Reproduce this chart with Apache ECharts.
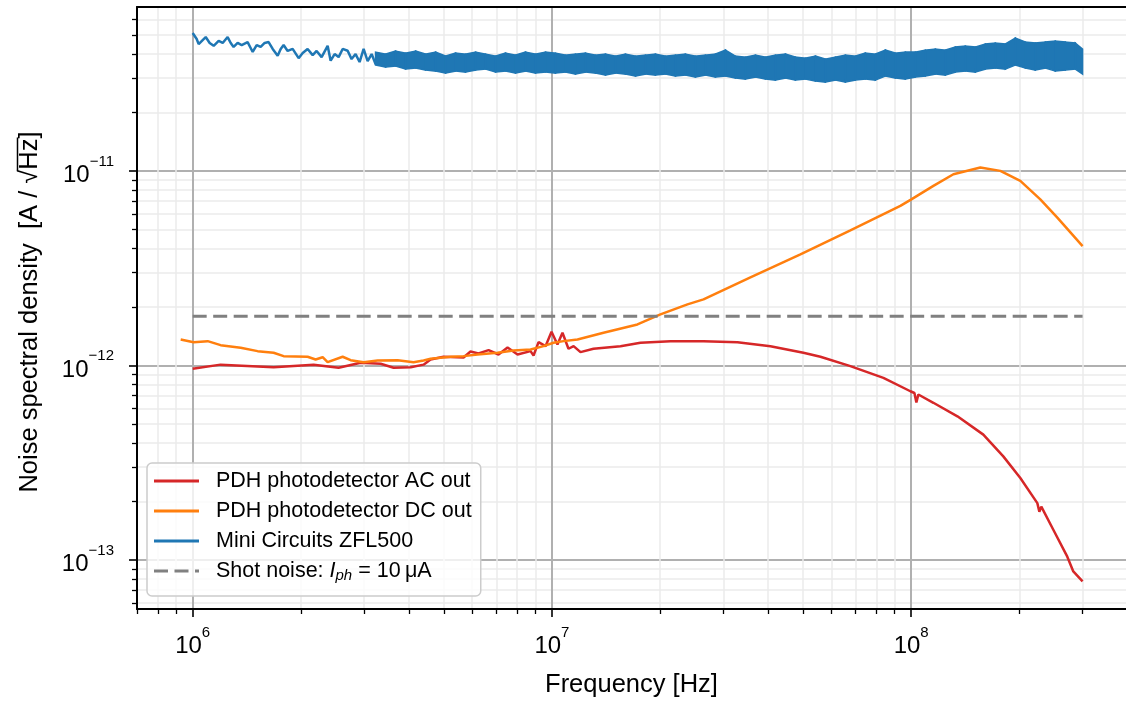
<!DOCTYPE html>
<html><head><meta charset="utf-8">
<script src="https://cdn.jsdelivr.net/npm/echarts@6/dist/echarts.min.js"></script>
<style>html,body{margin:0;padding:0;background:#fff}#c{width:1126px;height:701px}</style>
</head><body><div id="c"></div>
<script>
// Frequencies in MHz, noise densities in pA/sqrt(Hz)
const redFreqMHz = [1.0,1.196,1.680,2.171,2.548,2.934,3.336,3.625,4.044,4.392,4.594,4.993,5.675,5.935,6.249,6.663,7.102,7.524,8.021,8.718,8.889,9.178,9.598,9.975,10.36,10.70,11.12,11.49,12.01,13.05,15.52,17.64,21.38,26.42,32.84,40.57,50.12,55.90,67.73,83.70,99.5,102.1,103.4,104.7,115.3,134.5,158.8,180.5,201.3,224.5,227.4,230.3,248.7,272.0,282.7,300];
const redDensity = [0.962,1.01,0.980,1.01,0.973,1.033,1.020,0.973,0.980,1.01,1.074,1.109,1.099,1.180,1.153,1.199,1.139,1.238,1.139,1.185,1.126,1.318,1.257,1.491,1.283,1.474,1.219,1.257,1.171,1.219,1.257,1.309,1.334,1.334,1.318,1.257,1.162,1.109,0.992,0.864,0.737,0.722,0.645,0.709,0.643,0.548,0.441,0.341,0.264,0.196,0.177,0.188,0.143,0.104,0.0873,0.0776];

const orangeFreqMHz = [0.926,1.006,1.101,1.196,1.360,1.516,1.680,1.791,2.089,2.199,2.300,2.375,2.615,2.752,2.991,3.272,3.719,4.120,4.392,4.594,5.224,5.675,6.209,7.057,7.819,8.718,9.476,10.10,10.77,11.78,13.92,17.30,20.05,23.84,26.42,35.69,49.17,67.73,93.3,100.1,115.3,131.1,155.8,177.1,201.3,228.8,255.2,300];
const orangeDensity = [1.361,1.318,1.334,1.272,1.233,1.185,1.162,1.117,1.109,1.074,1.103,1.040,1.109,1.065,1.040,1.061,1.065,1.040,1.061,1.083,1.109,1.117,1.139,1.162,1.195,1.209,1.257,1.309,1.334,1.361,1.474,1.626,1.830,2.061,2.187,2.838,3.729,4.955,6.61,7.15,8.38,9.62,10.42,10.01,8.89,7.15,5.76,4.11];

// Mini Circuits: thin noisy line at low frequency ...
const blueLineFreqMHz = [1.000,1.026,1.039,1.066,1.087,1.115,1.144,1.181,1.212,1.251,1.276,1.300,1.334,1.369,1.422,1.450,1.469,1.507,1.546,1.586,1.627,1.670,1.724,1.758,1.791,1.838,1.898,1.972,2.024,2.089,2.158,2.213,2.285,2.375,2.421,2.484,2.548,2.615,2.700,2.769,2.841,2.915,2.991,3.069,3.149,3.231,3.336];
const blueLineDensity = [51.2,47.7,44.9,47.1,48.8,45.5,44.0,46.6,45.5,48.8,45.5,43.4,45.5,44.4,46.0,42.9,40.9,44.4,43.4,45.5,46.0,42.4,39.1,42.4,44.4,41.4,42.4,38.0,40.4,42.4,39.4,41.4,38.5,44.0,36.9,39.9,38.5,42.4,41.5,37.6,39.9,36.3,42.4,36.7,39.9,35.4,39.9];
// ... and a dense noise band (upper / lower envelope) above ~3 MHz
const blueBandFreqMHz = [3.229,3.444,3.671,3.914,4.174,4.449,4.745,5.058,5.393,5.748,6.131,6.535,6.968,7.428,7.920,8.444,9.001,9.598,10.23,10.91,11.63,12.40,13.22,14.10,15.03,16.02,17.09,18.22,19.42,20.71,22.08,23.53,25.09,26.75,28.52,30.41,32.42,34.56,36.86,39.30,41.90,44.67,47.62,50.77,54.13,57.71,61.52,65.60,69.94,74.56,79.50,84.76,90.37,96.35,102.7,109.5,116.8,124.5,132.7,141.5,150.9,160.9,171.5,182.9,195.0,207.9,221.6,236.3,251.9,268.6,286.4,300];
const blueBandHigh = [40.86,39.90,41.35,40.38,41.35,39.90,40.86,38.97,40.38,39.90,40.86,39.90,38.97,40.38,39.43,40.86,39.90,40.86,40.38,39.43,39.90,40.38,39.43,39.90,38.97,39.90,38.97,39.43,39.90,38.97,39.43,39.90,38.97,39.43,39.90,41.84,38.97,38.51,39.43,38.51,39.43,39.90,38.51,38.05,38.97,37.60,38.51,39.43,38.97,40.38,39.90,41.84,40.38,40.86,40.86,41.84,42.34,41.84,43.36,43.88,43.36,44.93,45.47,44.93,48.25,46.01,45.47,46.01,46.56,46.01,45.47,42.34];
const blueBandLow = [35.03,34.21,34.61,33.41,33.80,33.01,32.62,31.86,32.62,32.24,33.01,33.41,32.24,32.62,31.86,32.62,31.86,32.24,31.86,32.24,31.48,32.24,31.86,31.11,31.86,31.48,30.74,31.48,31.11,31.48,30.74,31.11,30.38,31.11,30.38,30.74,30.02,29.67,30.38,29.67,29.32,30.02,29.32,29.67,28.97,28.63,29.32,28.63,29.32,29.67,29.32,30.74,30.02,29.67,30.38,30.74,31.48,31.11,32.24,32.62,32.24,33.41,33.80,33.41,35.03,33.80,33.01,33.80,32.62,33.01,33.41,31.48];

const shotFreqMHz = [1, 300];
const shotDensity = [1.79, 1.79];

const xMajorExp = [6, 7, 8];
const yMajorExp = [-13, -12, -11];
const minorMult = [2, 3, 4, 5, 6, 7, 8, 9];

const NAME_RED = 'PDH photodetector AC out';
const NAME_ORANGE = 'PDH photodetector DC out';
const NAME_BLUE = 'Mini Circuits ZFL500';
const NAME_SHOT = 'Shot noise';

const RED = '#d62728', ORANGE = '#ff7f0e', BLUE = '#1f77b4', GRAY = '#808080';
const X_MIN = 5.845, X_MAX = 8.598, Y_MIN = -13.252, Y_MAX = -10.157;
const TICK_FONT = '"Liberation Sans", Arial, sans-serif';
const TEXT_FONT = '"Liberation Sans", Arial, sans-serif';

function minorTicks(decades, lo, hi) {
  const out = [];
  decades.forEach(d => minorMult.forEach(m => {
    const v = d + Math.log10(m);
    if (v > lo && v < hi) out.push(v);
  }));
  return out;
}
const xMinor = minorTicks([5, 6, 7, 8], X_MIN, X_MAX);
const yMinor = minorTicks([-14, -13, -12, -11], Y_MIN, Y_MAX);

const pts = (fMHz, vpA) => fMHz.map((f, i) => [Math.log10(f * 1e6), Math.log10(vpA[i] * 1e-12)]);
const bandData = blueBandFreqMHz.map((f, i) => [Math.log10(f * 1e6), Math.log10(blueBandLow[i] * 1e-12), Math.log10(blueBandHigh[i] * 1e-12)]);

const tickRich = {
  b: { fontSize: 24, fontFamily: TICK_FONT, color: '#000', lineHeight: 33.5, verticalAlign: 'bottom' },
  s: { fontSize: 15, fontFamily: TICK_FONT, color: '#000', lineHeight: 10, verticalAlign: 'top' }
};

// y-axis title with overline on Hz
const TITLE_SIZE = 25.5;
const TITLE_FONT = TITLE_SIZE + 'px ' + TEXT_FONT;
const mctx = document.createElement('canvas').getContext('2d');
mctx.font = TITLE_FONT;
const yPre = 'Noise spectral density  [A / \u221A';
const yRad = 'Hz';
const yFull = yPre + yRad + ']';
const wFull = mctx.measureText(yFull).width;
const wPre = mctx.measureText(yPre).width;
const wRad = mctx.measureText(yRad).width;

const chart = echarts.init(document.getElementById('c'), null, { renderer: 'canvas' });
const option = {
  animation: false,
  backgroundColor: '#fff',
  grid: { left: 137, top: 7, right: 0, bottom: 92, containLabel: false },
  xAxis: [
    { type: 'value', min: X_MIN, max: X_MAX, position: 'bottom',
      axisLine: { show: false },
      axisTick: { show: true, customValues: xMinor, length: 5, lineStyle: { color: '#000', width: 1.3 } },
      axisLabel: { show: false },
      splitLine: { show: true, lineStyle: { color: '#ebebeb', width: 1.5 } } },
    { type: 'value', min: X_MIN, max: X_MAX, position: 'bottom',
      axisLine: { show: true, onZero: false, lineStyle: { color: '#000', width: 2 } },
      axisTick: { show: true, customValues: xMajorExp, length: 8, lineStyle: { color: '#000', width: 1.6 } },
      axisLabel: { show: true, customValues: xMajorExp, margin: 16, rich: tickRich,
        formatter: v => '{b|10}{s|' + Math.round(v) + '}' },
      splitLine: { show: true, lineStyle: { color: '#b0b0b0', width: 2 } } },
    { type: 'value', min: X_MIN, max: X_MAX, position: 'top',
      axisLine: { show: true, onZero: false, lineStyle: { color: '#000', width: 2 } },
      axisTick: { show: false }, axisLabel: { show: false }, splitLine: { show: false } }
  ],
  yAxis: [
    { type: 'value', min: Y_MIN, max: Y_MAX, position: 'left',
      axisLine: { show: false },
      axisTick: { show: true, customValues: yMinor, length: 5, lineStyle: { color: '#000', width: 1.3 } },
      axisLabel: { show: false },
      splitLine: { show: true, lineStyle: { color: '#ebebeb', width: 1.5 } } },
    { type: 'value', min: Y_MIN, max: Y_MAX, position: 'left',
      axisLine: { show: true, onZero: false, lineStyle: { color: '#000', width: 2 } },
      axisTick: { show: true, customValues: yMajorExp, length: 8, lineStyle: { color: '#000', width: 1.6 } },
      axisLabel: { show: true, customValues: yMajorExp, margin: 23, rich: tickRich,
        formatter: v => '{b|10}{s|\u2212' + Math.abs(Math.round(v)) + '}' },
      splitLine: { show: true, lineStyle: { color: '#b0b0b0', width: 2 } } }
  ],
  legend: {
    orient: 'vertical', left: 147, top: 463, padding: [6, 9, 13, 7], itemGap: 6,
    itemWidth: 45, itemHeight: 3, selectedMode: false,
    backgroundColor: 'rgba(255,255,255,0.8)', borderColor: '#cccccc', borderWidth: 1.5, borderRadius: 5,
    textStyle: { fontSize: 21.5, fontFamily: TEXT_FONT, color: '#000', lineHeight: 24, padding: [0, 0, 0, 12],
      rich: {
        n: { fontSize: 21.5, fontFamily: TEXT_FONT, color: '#000', lineHeight: 24 },
        i: { fontSize: 21.5, fontFamily: TEXT_FONT, fontStyle: 'italic', color: '#000', lineHeight: 24 },
        sub: { fontSize: 15, fontFamily: TEXT_FONT, fontStyle: 'italic', color: '#000', lineHeight: 10, verticalAlign: 'bottom' }
      } },
    formatter: name => name === NAME_SHOT ? '{n|Shot noise: }{i|I}{sub|ph}{n| = 10\u2009\u03BCA}' : name,
    data: [
      { name: NAME_RED, icon: 'rect' },
      { name: NAME_ORANGE, icon: 'rect' },
      { name: NAME_BLUE, icon: 'rect' },
      { name: NAME_SHOT, icon: 'path://M0,0h14v3h-14zM20.5,0h14v3h-14zM41,0h4v3h-4z' }
    ]
  },
  graphic: [
    { type: 'group', x: 30, y: 312, rotation: Math.PI / 2, children: [
      { type: 'text', style: { text: yFull, font: TITLE_FONT, fill: '#000', align: 'center', verticalAlign: 'middle', x: 0, y: 0 } },
      { type: 'line', shape: { x1: -wFull / 2 + wPre - 1, y1: -12.5, x2: -wFull / 2 + wPre + wRad + 1, y2: -12.5 },
        style: { stroke: '#000', lineWidth: 1.5 } }
    ] },
    { type: 'text', x: 631.5, y: 685, style: { text: 'Frequency [Hz]', font: TITLE_FONT, fill: '#000', align: 'center', verticalAlign: 'middle' } }
  ],
  series: [
    { name: NAME_RED, type: 'line', data: pts(redFreqMHz, redDensity), showSymbol: false, symbol: 'none',
      itemStyle: { color: RED }, lineStyle: { color: RED, width: 2.5 }, z: 3 },
    { name: NAME_ORANGE, type: 'line', data: pts(orangeFreqMHz, orangeDensity), showSymbol: false, symbol: 'none',
      itemStyle: { color: ORANGE }, lineStyle: { color: ORANGE, width: 2.5 }, z: 4 },
    { name: NAME_BLUE, type: 'line', data: pts(blueLineFreqMHz, blueLineDensity), showSymbol: false, symbol: 'none',
      itemStyle: { color: BLUE }, lineStyle: { color: BLUE, width: 2.5 }, z: 5 },
    { name: NAME_BLUE, type: 'custom', coordinateSystem: 'cartesian2d', data: bandData,
      encode: { x: 0, y: [1, 2] }, itemStyle: { color: BLUE }, z: 5,
      renderItem: (params, api) => {
        const i = params.dataIndex;
        if (i >= bandData.length - 1) return null;
        const a = bandData[i], b = bandData[i + 1];
        const poly = [api.coord([a[0], a[1]]), api.coord([b[0], b[1]]), api.coord([b[0], b[2]]), api.coord([a[0], a[2]])];
        return { type: 'polygon', shape: { points: poly }, style: { fill: BLUE, stroke: BLUE, lineWidth: 1.5 } };
      } },
    { name: NAME_SHOT, type: 'line', data: pts(shotFreqMHz, shotDensity), showSymbol: false, symbol: 'none',
      itemStyle: { color: GRAY }, lineStyle: { color: GRAY, width: 3, type: [14, 6.5] }, z: 6 }
  ]
};
chart.setOption(option);
</script>
</body></html>
